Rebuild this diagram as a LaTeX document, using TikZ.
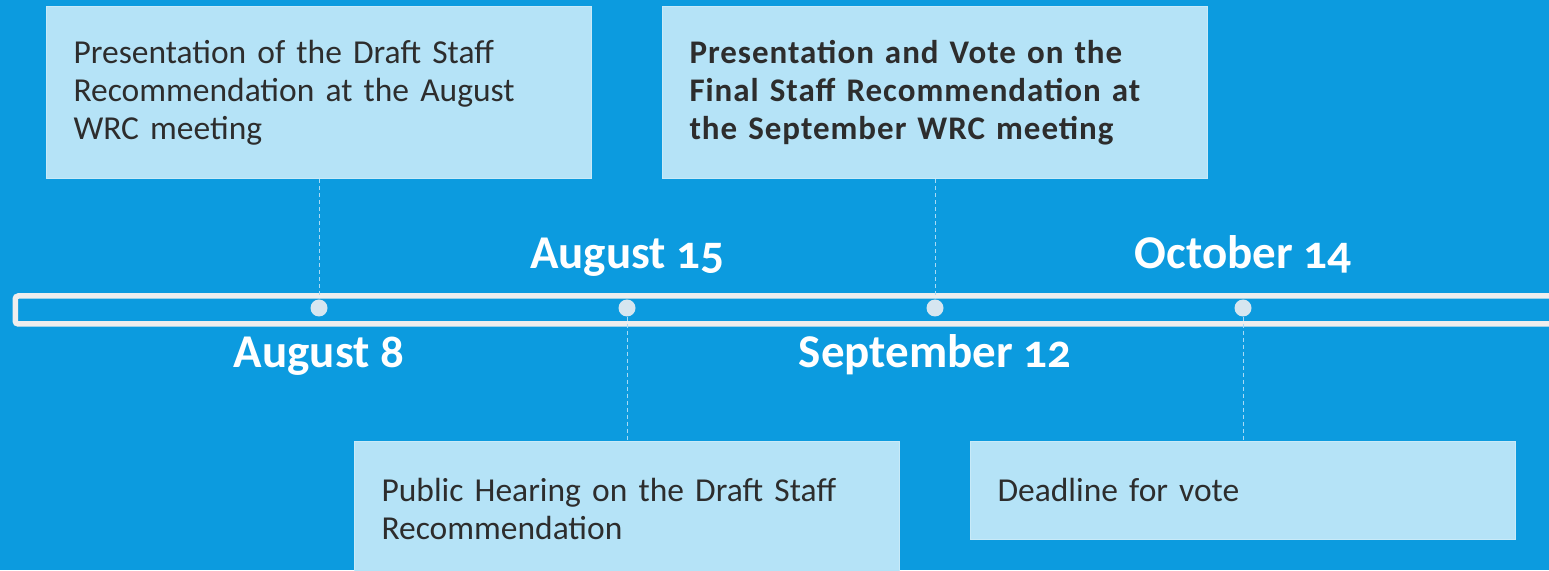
\documentclass[tikz,border=0pt]{standalone}
\usepackage{fontspec}
\setmainfont{Carlito}
\newfontfamily\datefont[Numbers=OldStyle]{Carlito}
\newfontfamily\wideboldfont[LetterSpace=3]{Carlito}
\usetikzlibrary{positioning}

\definecolor{bgblue}{HTML}{0C9BDF}
\definecolor{boxblue}{HTML}{B5E3F7}
\definecolor{boxline}{HTML}{C8EAF8}
\definecolor{inkgray}{HTML}{2D2D2D}
\definecolor{barline}{HTML}{EEEEEE}
\definecolor{dotgray}{HTML}{D6E6F0}
\definecolor{tickblue}{HTML}{A8DAF5}

\begin{document}
\begin{tikzpicture}[x=1pt,y=1pt,
    event/.style={rectangle, fill=boxblue, draw=boxline, line width=1pt,
      inner xsep=27pt, inner ysep=0pt, text width=491pt, align=left,
      text=inkgray, font=\fontsize{33.5}{38}\selectfont, minimum height=172pt},
    datelbl/.style={text=white, inner sep=0pt, anchor=base,
      font=\datefont\bfseries\fontsize{47}{52}\selectfont},
    dot/.style={circle, fill=dotgray, inner sep=0pt, minimum size=17pt},
    tick/.style={draw=tickblue, line width=1pt, dash pattern=on 4pt off 3pt}]

  % background and page size
  \fill[bgblue] (0,0) rectangle (1549,570);
  \useasboundingbox (0,0) rectangle (1549,570);
  \clip (0,0) rectangle (1549,570);

  % the time bar
  \node[rectangle, draw=barline, line width=5.5pt, rounded corners=3pt,
    minimum width=1600pt, minimum height=28pt, anchor=west] (bar) at (12.5,260) {};

  % points on the bar
  \node[dot] (d1) at (319,262) {};
  \node[dot] (d2) at (627,262) {};
  \node[dot] (d3) at (935,262) {};
  \node[dot] (d4) at (1243,262) {};

  % dates
  \node[datelbl] (l1) at ([yshift=-60pt]d1) {August 8};
  \node[datelbl] (l2) at ([yshift=39pt]d2) {August 15};
  \node[datelbl] (l3) at ([yshift=-60pt]d3) {September 12};
  \node[datelbl] (l4) at ([yshift=39pt]d4) {October 14};

  % events
  \node[event, above=120pt of d1] (e1)
    {Presentation of the Draft Staff\\ Recommendation at the August\\ WRC meeting};
  \node[event, below=124pt of d2, minimum height=136pt] (e2)
    {Public Hearing on the Draft Staff\\ Recommendation};
  \node[event, above=120pt of d3, font=\wideboldfont\bfseries\fontsize{33}{38}\selectfont] (e3)
    {Presentation and Vote on the\\ Final Staff Recommendation at\\ the September WRC meeting};
  \node[event, below=124pt of d4, minimum height=98pt] (e4)
    {Deadline for vote};

  \draw[tick] (e1) -- (d1);
  \draw[tick] (d2) -- (e2);
  \draw[tick] (e3) -- (d3);
  \draw[tick] (d4) -- (e4);
\end{tikzpicture}
\end{document}
